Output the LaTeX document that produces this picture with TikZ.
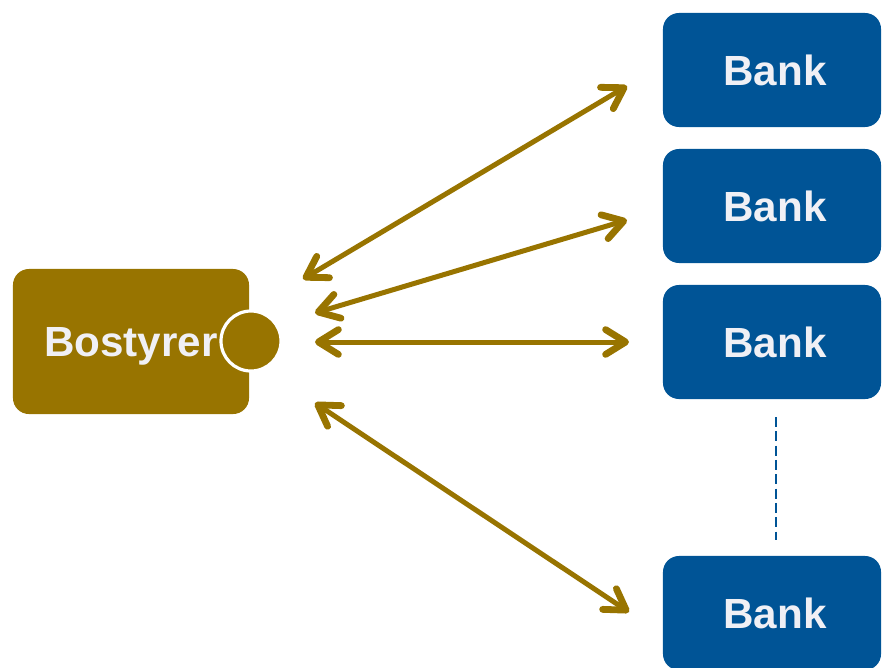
\documentclass[tikz,border=0pt]{standalone}
\usepackage{fontspec}
\setmainfont{Liberation Sans}
\usepackage{tikz}
\usetikzlibrary{arrows.meta}
\definecolor{Gold}{RGB}{152,116,0}
\definecolor{BankBlue}{RGB}{0,84,150}
\definecolor{Label}{RGB}{240,240,245}
\newcommand{\bankname}{\hspace*{0.15cm}Bank}

\begin{document}
\begin{tikzpicture}[x=0.025cm, y=-0.025cm, line cap=round,
  box/.style={draw=none, rounded corners=0.4cm, text=Label, text depth=0pt,
    font=\fontsize{30}{36}\selectfont\bfseries},
  bank/.style={box, fill=BankBlue, minimum width=5.45cm, minimum height=2.85cm},
  link/.style={Gold, line width=0.125cm,
    {Straight Barb[length=0.5cm,width=0.62cm,line width=0.17cm,round]}-{Straight Barb[length=0.5cm,width=0.62cm,line width=0.17cm,round]}}]

  \useasboundingbox (0,0) rectangle (882,667);

  % Bostyrer
  \node[box, fill=Gold, minimum width=5.9cm, minimum height=3.625cm] (Bost) at (131,341.5) {Bostyrer};
  \node[circle, fill=Gold, draw=white, line width=0.08cm, minimum size=1.5cm, inner sep=0pt] (Knob) at (251,341) {};

  % banks
  \node[bank] (Bank1) at (772,70) {\bankname};
  \node[bank] (Bank2) at (772,206) {\bankname};
  \node[bank] (Bank3) at (772,342) {\bankname};
  \node[bank] (Bank4) at (772,613) {\bankname};

  \coordinate (H1) at (303,279);
  \coordinate (H2) at (315,313);
  \coordinate (H3) at (315,342);
  \coordinate (H4) at (315,403);
  \coordinate (K1) at (627,86);
  \coordinate (K2) at (627,220);
  \coordinate (K3) at (629,342);
  \coordinate (K4) at (629,612);

  \draw[link] (H1) -- (K1);
  \draw[link] (H2) -- (K2);
  \draw[link] (H3) -- (K3);
  \draw[link] (H4) -- (K4);

  % dots between the banks
  \coordinate (D1) at (776,417);
  \coordinate (D2) at (776,540);
  \draw[BankBlue, line width=0.065cm, line cap=butt, dash pattern=on 0.25cm off 0.108cm] (D1) -- (D2);

\end{tikzpicture}
\end{document}
